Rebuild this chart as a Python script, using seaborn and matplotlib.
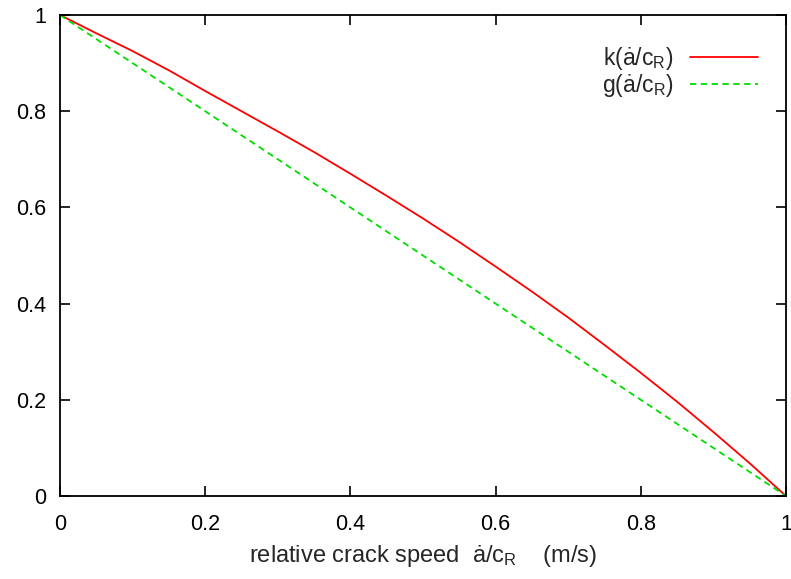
import matplotlib
matplotlib.use("Agg")
import matplotlib.pyplot as plt
import seaborn as sns
import pandas as pd

speed = [0.0, 0.05, 0.1, 0.15, 0.2, 0.25, 0.3, 0.35, 0.4, 0.45, 0.5,
         0.55, 0.6, 0.65, 0.7, 0.75, 0.8, 0.85, 0.9, 0.95, 1.0]
k_vals = [1.0, 0.962, 0.925, 0.885, 0.842, 0.800, 0.758, 0.715, 0.670, 0.624, 0.577,
          0.528, 0.477, 0.425, 0.371, 0.314, 0.256, 0.196, 0.133, 0.068, 0.0]
g_vals = [1.0, 0.95, 0.9, 0.85, 0.8, 0.75, 0.7, 0.65, 0.6, 0.55, 0.5,
          0.45, 0.4, 0.35, 0.3, 0.25, 0.2, 0.15, 0.1, 0.05, 0.0]
series_names = ["k(ȧ/c$_\\mathrm{R}$)", "g(ȧ/c$_\\mathrm{R}$)"]
xticks = [0, 0.2, 0.4, 0.6, 0.8, 1]
xticklabels = ["0", "0.2", "0.4", "0.6", "0.8", "1"]
yticks = [0, 0.2, 0.4, 0.6, 0.8, 1]
yticklabels = ["0", "0.2", "0.4", "0.6", "0.8", "1"]

sns.set_theme(style="ticks")
plt.rcParams['font.family'] = ['Liberation Sans', 'DejaVu Sans']
plt.rcParams['mathtext.fontset'] = 'custom'
plt.rcParams['mathtext.rm'] = 'Liberation Sans'
plt.rcParams['mathtext.it'] = 'Liberation Sans:italic'

df = pd.DataFrame({
    "speed": speed * 2,
    "value": k_vals + g_vals,
    "series": [series_names[0]] * len(speed) + [series_names[1]] * len(speed),
})

fig = plt.figure(figsize=(7.91, 5.79), dpi=100)
ax = fig.add_axes([60/791, 1-496/579, 726/791, 481/579])

sns.lineplot(data=df, x="speed", y="value", hue="series", style="series",
             palette={series_names[0]: "#ff0000", series_names[1]: "#00dd00"},
             dashes={series_names[0]: "", series_names[1]: (3.5, 2.5)},
             linewidth=1.3, ax=ax, legend=True)

ax.set_xlim(0, 1)
ax.set_ylim(0, 1)
ax.set_xticks(xticks)
ax.set_xticklabels(xticklabels)
ax.set_yticks(yticks)
ax.set_yticklabels(yticklabels)
ax.tick_params(direction="in", length=7, width=1.2, top=True, right=True,
               labelsize=15.5, colors="black")
ax.tick_params(axis="y", pad=10)
ax.tick_params(axis="x", pad=13)
for s in ax.spines.values():
    s.set_linewidth(1.3)
    s.set_color("black")
    s.set_visible(True)
ax.set_xlabel("relative crack speed  ȧ/c$_\\mathrm{R}$    (m/s)", fontsize=17, labelpad=6)
ax.set_ylabel("")

handles, labels = ax.get_legend_handles_labels()
leg = ax.legend(handles, labels, loc="upper right", bbox_to_anchor=(0.962, 0.938),
                frameon=False, markerfirst=False, fontsize=16.5, handlelength=3.0,
                borderpad=0, borderaxespad=0, labelspacing=0.02, handletextpad=0.7)
for t in leg.get_texts():
    t.set_ha("right")
leg._legend_box.align = "right"
for line in leg.get_lines():
    line.set_linewidth(1.3)

fig.savefig("out.png", dpi=100)
